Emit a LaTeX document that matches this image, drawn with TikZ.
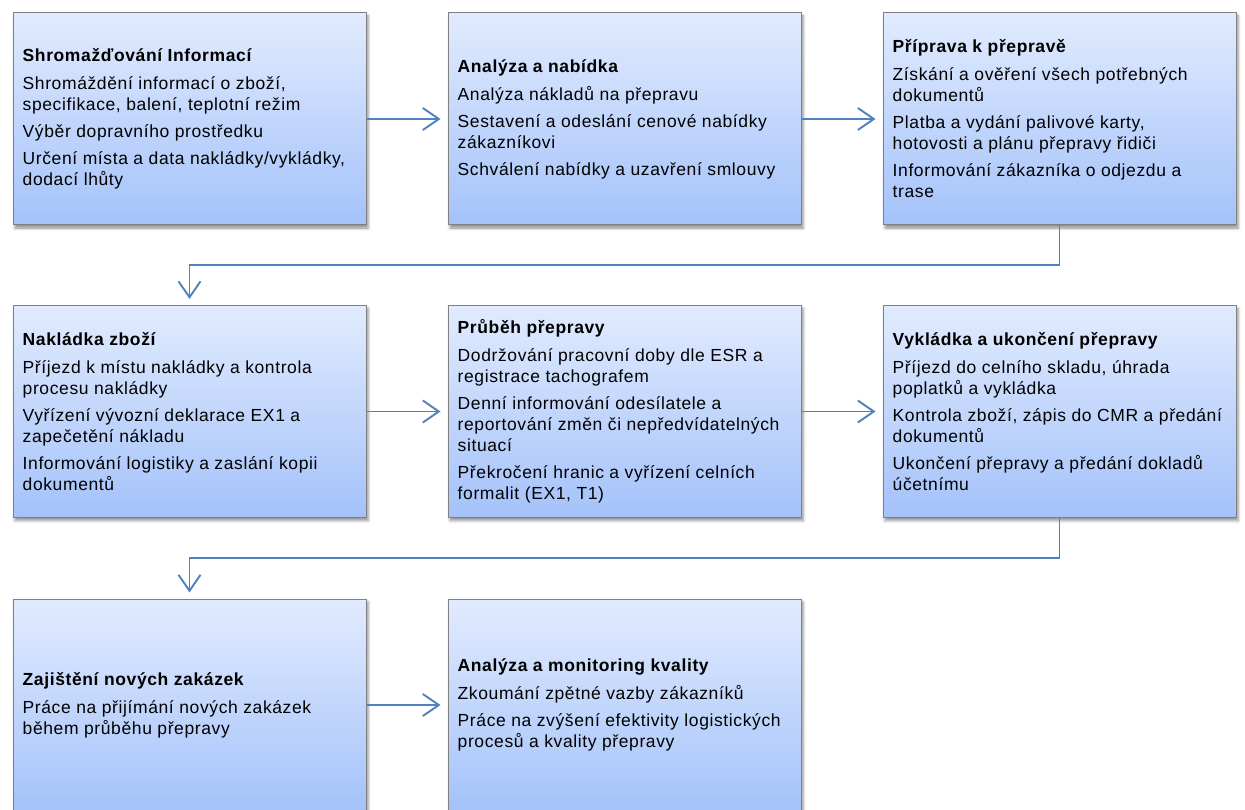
\documentclass[tikz,border=0pt]{standalone}
\usepackage{fontspec}
\setmainfont[LetterSpace=3.5]{Liberation Sans}
\usetikzlibrary{arrows.meta,shadows.blur,calc}
\definecolor{topc}{RGB}{225,235,254}
\definecolor{botc}{RGB}{164,194,250}
\definecolor{bordc}{RGB}{128,128,128}
\definecolor{arrc}{RGB}{79,129,189}
\tikzset{
 box/.style={rectangle, draw=bordc, line width=1pt, top color=topc, bottom color=botc,
   minimum width=353pt, minimum height=212pt, inner sep=0pt,
   blur shadow={shadow xshift=2pt, shadow yshift=-3pt, shadow blur radius=3pt, shadow opacity=45}},
 txt/.style={anchor=west, align=left, inner sep=0pt, xshift=10pt, font=\fontsize{17.5pt}{21pt}\selectfont},
 conn/.style={draw=arrc, line width=1.9pt, -{Straight Barb[length=16pt,width=22pt]}},
}
\begin{document}
\begin{tikzpicture}[x=1pt,y=-1pt]
\useasboundingbox (0,0) rectangle (1245,810);
\clip (0,0) rectangle (1245,810);
% boxes
\node[box] (b1) at (189.5,119) {};
\node[box] (b2) at (624.5,119) {};
\node[box] (b3) at (1059.5,119) {};
\node[box] (b4) at (189.5,411.5) {};
\node[box] (b5) at (624.5,411.5) {};
\node[box] (b6) at (1059.5,411.5) {};
\node[box] (b7) at (189.5,705) {};
\node[box] (b8) at (624.5,705) {};
% texts
\node[txt] (t1) at (b1.west) {\textbf{Shromažďování Informací}\\[7pt]
Shromáždění informací o zboží,\\ specifikace, balení, teplotní režim\\[6pt]
Výběr dopravního prostředku\\[6pt]
Určení místa a data nakládky/vykládky,\\ dodací lhůty};
\node[txt] (t2) at (b2.west) {\textbf{Analýza a nabídka}\\[7pt]
Analýza nákladů na přepravu\\[6pt]
Sestavení a odeslání cenové nabídky\\ zákazníkovi\\[6pt]
Schválení nabídky a uzavření smlouvy};
\node[txt] (t3) at (b3.west) {\textbf{Příprava k přepravě}\\[7pt]
Získání a ověření všech potřebných\\ dokumentů\\[6pt]
Platba a vydání palivové karty,\\ hotovosti a plánu přepravy řidiči\\[6pt]
Informování zákazníka o odjezdu a\\ trase};
\node[txt] (t4) at (b4.west) {\textbf{Nakládka zboží}\\[7pt]
Příjezd k místu nakládky a kontrola\\ procesu nakládky\\[6pt]
Vyřízení vývozní deklarace EX1 a\\ zapečetění nákladu\\[6pt]
Informování logistiky a zaslání kopii\\ dokumentů};
\node[txt] (t5) at (b5.west) {\textbf{Průběh přepravy}\\[7pt]
Dodržování pracovní doby dle ESR a\\ registrace tachografem\\[6pt]
Denní informování odesílatele a\\ reportování změn či nepředvídatelných\\ situací\\[6pt]
Překročení hranic a vyřízení celních\\ formalit (EX1, T1)};
\node[txt] (t6) at (b6.west) {\textbf{Vykládka a ukončení přepravy}\\[7pt]
Příjezd do celního skladu, úhrada\\ poplatků a vykládka\\[6pt]
Kontrola zboží, zápis do CMR a předání\\ dokumentů\\[6pt]
Ukončení přepravy a předání dokladů\\ účetnímu};
\node[txt] (t7) at (b7.west) {\textbf{Zajištění nových zakázek}\\[7pt]
Práce na přijímání nových zakázek\\ během průběhu přepravy};
\node[txt] (t8) at (b8.west) {\textbf{Analýza a monitoring kvality}\\[7pt]
Zkoumání zpětné vazby zákazníků\\[6pt]
Práce na zvýšení efektivity logistických\\ procesů a kvality přepravy};
% connectors
\draw[conn, shorten >=7pt] (b1.east) -- (b2.west);
\draw[conn, shorten >=7pt] (b2.east) -- (b3.west);
\draw[conn, shorten >=7pt] (b4.east) -- (b5.west);
\draw[conn, shorten >=7pt] (b5.east) -- (b6.west);
\draw[conn, shorten >=7pt] (b7.east) -- (b8.west);
\coordinate (m1) at ($(b3.south)!0.5!(b4.north)$);
\coordinate (m2) at ($(b6.south)!0.5!(b7.north)$);
\draw[conn, shorten >=6pt] (b3.south) -- (b3.south |- m1) -- (b4.north |- m1) -- (b4.north);
\draw[conn, shorten >=6pt] (b6.south) -- (b6.south |- m2) -- (b7.north |- m2) -- (b7.north);
\end{tikzpicture}
\end{document}
